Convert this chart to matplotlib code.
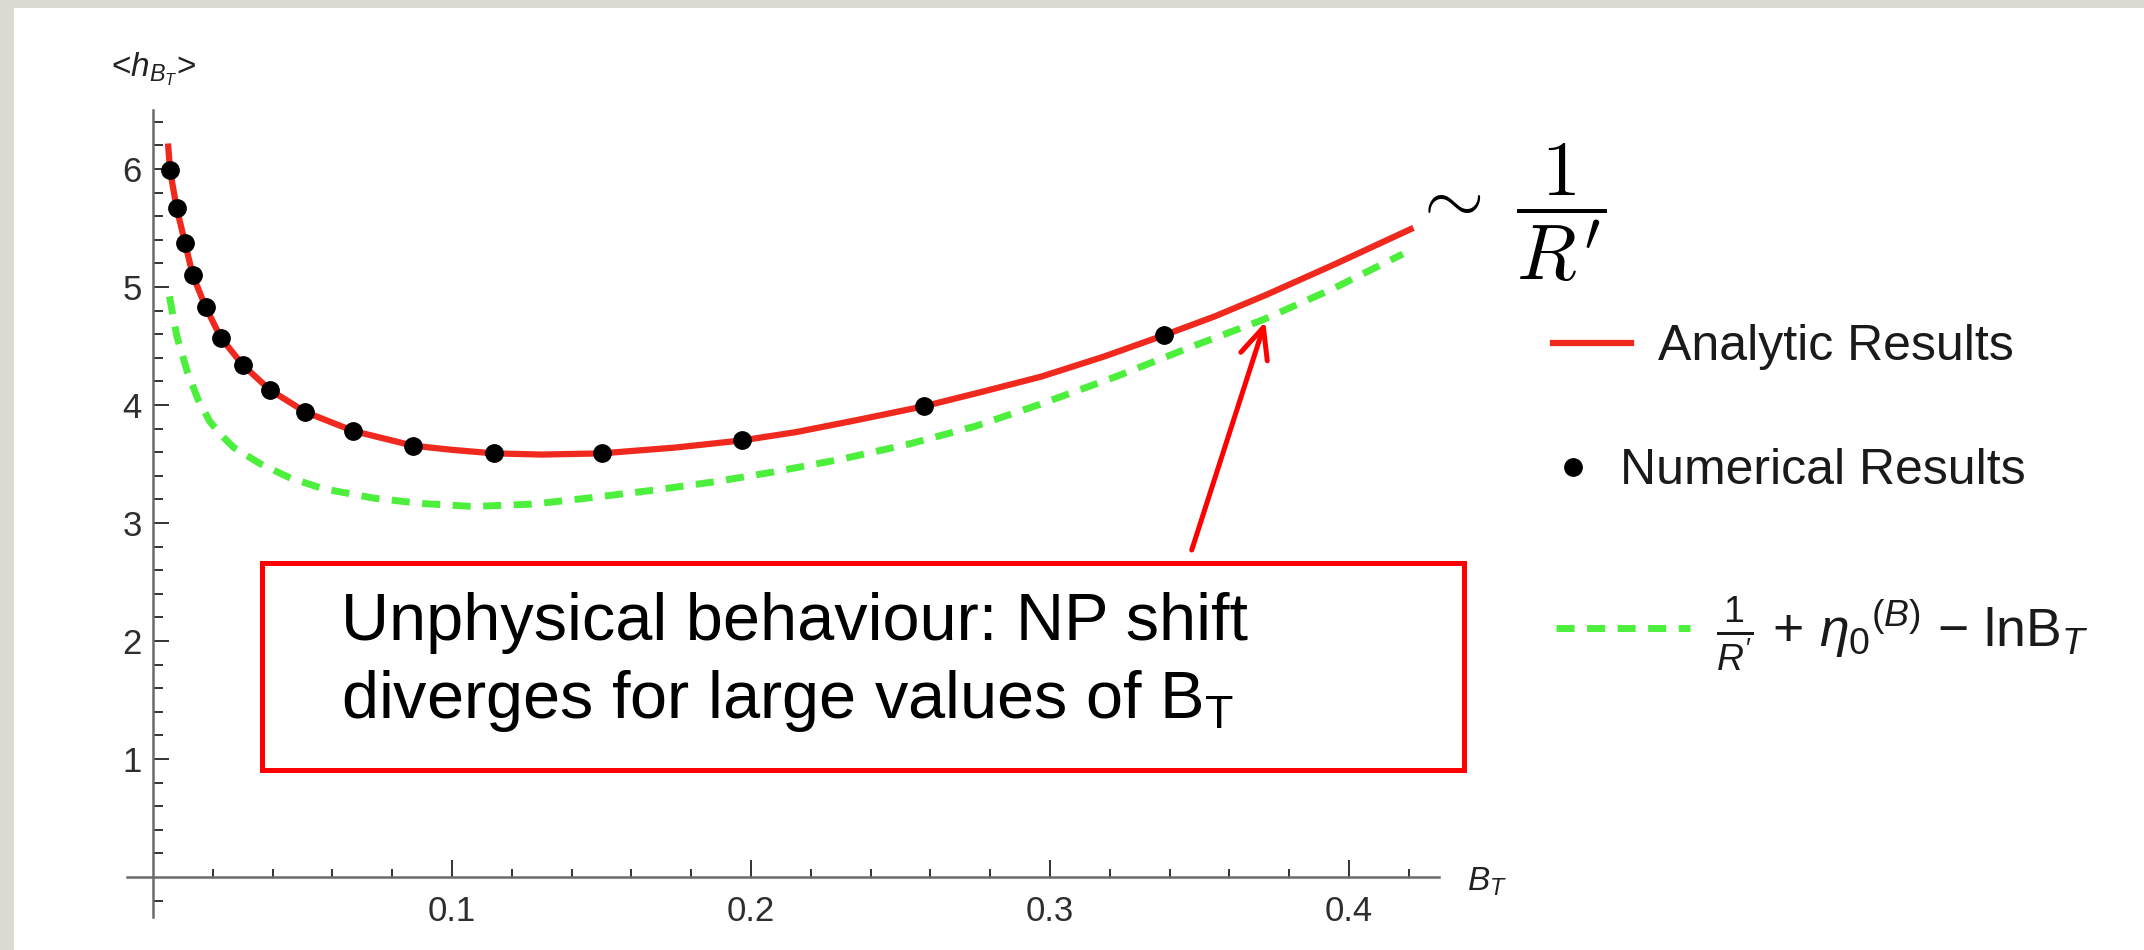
import numpy as np
import matplotlib
matplotlib.use('Agg')
import matplotlib.pyplot as plt
from matplotlib.lines import Line2D
from matplotlib.patches import Rectangle

plt.rcParams['font.family'] = ['Liberation Sans', 'DejaVu Sans']
plt.rcParams['mathtext.fontset'] = 'custom'
plt.rcParams['mathtext.rm'] = 'Liberation Sans'
plt.rcParams['mathtext.it'] = 'Liberation Sans:italic'
plt.rcParams['mathtext.bf'] = 'Liberation Sans:bold'

# numerical results (points)
bt_num = [0.0057, 0.0079, 0.0107, 0.0133, 0.0176, 0.0227, 0.030, 0.039,
          0.051, 0.067, 0.087, 0.114, 0.150, 0.197, 0.258, 0.338]
h_num = [5.99, 5.67, 5.375, 5.10, 4.83, 4.57, 4.34, 4.13,
         3.94, 3.78, 3.655, 3.59, 3.595, 3.70, 3.99, 4.59]

# analytic result (red curve)
bt_an = [0.0051, 0.0057, 0.0079, 0.0107, 0.0133, 0.0176, 0.0227, 0.030,
         0.039, 0.051, 0.067, 0.087, 0.100, 0.114, 0.130, 0.150, 0.175,
         0.197, 0.215, 0.235, 0.258, 0.277, 0.297, 0.318, 0.338, 0.355,
         0.372, 0.395, 0.4206]
h_an = [6.19, 5.99, 5.67, 5.375, 5.10, 4.83, 4.57, 4.34,
        4.13, 3.94, 3.78, 3.655, 3.62, 3.59, 3.58, 3.59, 3.64,
        3.70, 3.77, 3.87, 3.99, 4.11, 4.24, 4.41, 4.59, 4.75,
        4.93, 5.19, 5.49]

# 1/R' + eta0 - ln B_T (green dashed)
bt_ap = [0.0055, 0.008, 0.0115, 0.015, 0.019, 0.023, 0.027, 0.036, 0.046,
         0.057, 0.074, 0.090, 0.107, 0.127, 0.145, 0.168, 0.188, 0.207,
         0.230, 0.253, 0.275, 0.296, 0.322, 0.349, 0.371, 0.395, 0.418]
h_ap = [4.92, 4.58, 4.28, 4.05, 3.86, 3.74, 3.64, 3.50, 3.38,
        3.29, 3.21, 3.165, 3.14, 3.16, 3.21, 3.28, 3.35, 3.43,
        3.54, 3.67, 3.82, 4.0, 4.24, 4.51, 4.72, 4.99, 5.28]

x_major = [0.1, 0.2, 0.3, 0.4]
x_minor = [0.02, 0.04, 0.06, 0.08, 0.12, 0.14, 0.16, 0.18, 0.22, 0.24, 0.26,
           0.28, 0.32, 0.34, 0.36, 0.38, 0.42]
y_major = [1, 2, 3, 4, 5, 6]
y_minor = [v / 10 for v in range(-2, 65, 2) if v % 10 != 0]

RED = '#f0291f'
GREEN = '#4cf03c'
W, H = 2144, 950

fig = plt.figure(figsize=(W / 100, H / 100), dpi=100, facecolor='#dcd9d3')
fig.patches.append(Rectangle((14 / W, 0), 1, (H - 8) / H, transform=fig.transFigure,
                             facecolor='white', edgecolor='none', zorder=-10))

# axes: x=0 at 153px, 2990px per unit; y=0 at 877px, 118px per unit
xl, xr = -0.0087, 0.43
yb, yt = -0.34, 6.5
px_l, px_r = 153 + xl * 2990, 153 + xr * 2990
py_b, py_t = 877 - yb * 118, 877 - yt * 118
ax = fig.add_axes([px_l / W, (H - py_b) / H, (px_r - px_l) / W, (py_b - py_t) / H])
ax.patch.set_visible(False)
ax.set_xlim(xl, xr)
ax.set_ylim(yb, yt)

for s in ['top', 'right']:
    ax.spines[s].set_visible(False)
for s in ['left', 'bottom']:
    ax.spines[s].set_position(('data', 0))
    ax.spines[s].set_color('#6a6a6a')
    ax.spines[s].set_linewidth(1.8)

ax.set_xticks(x_major)
ax.set_xticks(x_minor, minor=True)
ax.set_yticks(y_major)
ax.set_yticks(y_minor, minor=True)
ax.set_xticklabels([str(v) for v in x_major])
ax.set_yticklabels([str(v) for v in y_major])
ax.tick_params(axis='x', which='major', direction='in', length=12, width=1.4,
               pad=13, labelsize=25, color='#333333', labelcolor='#2e2e2e')
ax.tick_params(axis='x', which='minor', direction='in', length=6, width=1.4,
               color='#333333')
ax.tick_params(axis='y', which='major', direction='in', length=11.5, width=1.4,
               pad=8, labelsize=25, color='#333333', labelcolor='#2e2e2e')
ax.tick_params(axis='y', which='minor', direction='in', length=7, width=1.4,
               color='#333333')

ax.plot(bt_ap, h_ap, color=GREEN, lw=5, dashes=(2.6, 1.8), zorder=2, clip_on=False)
ax.plot(bt_an, h_an, color=RED, lw=4.5, zorder=3, clip_on=False)
ax.plot(bt_num, h_num, 'o', color='black', ms=12.5, zorder=4, clip_on=False)

ax.text(0, 6.84, r'<$h_{B_T}$>', ha='center', va='center', fontsize=24,
        color='#222222', clip_on=False)
ax.text(0.4395, -0.04, r'$B_T$', ha='left', va='center', fontsize=24,
        color='#222222', clip_on=False)

ax.text(0.4205, 5.63, r"$\sim\;\dfrac{1}{R^{\prime}}$", ha='left', va='center',
        fontsize=56, math_fontfamily='cm', color='black')

# annotation box and arrow
ax.add_patch(Rectangle((0.03645, 0.907), 0.43846 - 0.03645, 2.661 - 0.907,
                       fill=False, edgecolor='#ff0000', lw=3.6, clip_on=False, zorder=5))
ax.text(0.0629, 2.008, 'Unphysical behaviour: NP shift', ha='left', va='baseline',
        fontsize=48, color='black')
ax.text(0.0629, 1.347, r'diverges for large values of B$_\mathrm{T}$', ha='left',
        va='baseline', fontsize=48, color='black')
ax.annotate('', xy=(0.372, 4.706), xytext=(0.3474, 2.771),
            arrowprops=dict(arrowstyle='->,head_length=1.1,head_width=0.5',
                            color='#ff0000', lw=3.6, mutation_scale=20,
                            shrinkA=0, shrinkB=0), zorder=6)

# legend entries
leg_kw = dict(frameon=False, borderpad=0, borderaxespad=0,
              labelcolor='#1a1a1a', loc='center left')
h1 = Line2D([], [], color=RED, lw=4.5)
h2 = Line2D([], [], color='black', marker='o', ls='none', ms=12.5)
h3 = Line2D([], [], color=GREEN, lw=5, dashes=(2.6, 1.8))
l1 = fig.legend([h1], ['Analytic Results'], bbox_to_anchor=(1553 / W, 1 - 347 / H),
                handlelength=1.55, handletextpad=0.55, fontsize=36, **leg_kw)
l2 = fig.legend([h2], ['Numerical Results'], bbox_to_anchor=(1553 / W, 1 - 471 / H),
                handlelength=0.8, handletextpad=0.55, fontsize=36, **leg_kw)
l3 = fig.legend([h3], [r"$\frac{1}{R'}$ + $\eta_0{}^{(B)}$ $-$ lnB$_T$"],
                bbox_to_anchor=(1556 / W, 1 - 634 / H),
                handlelength=2.5, handletextpad=0.5, fontsize=38.5, **leg_kw)

fig.savefig('out.png', dpi=100, facecolor=fig.get_facecolor())
